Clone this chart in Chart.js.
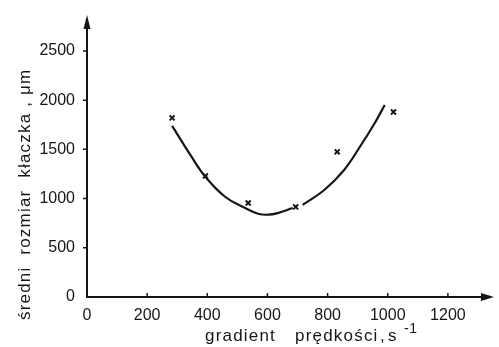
<!DOCTYPE html>
<html>
<head>
<meta charset="utf-8">
<script src="https://cdn.jsdelivr.net/npm/chart.js@4.4.0/dist/chart.umd.min.js"></script>
<style>
html, body { margin: 0; padding: 0; background: #fff; }
canvas { display: block; }
</style>
</head>
<body>
<canvas id="floc" width="499" height="347"></canvas>
<script>
// measured floc size against velocity gradient
const gradX = [283, 394, 536, 694, 832, 1019];
const flocY = [1820, 1230, 955, 915, 1475, 1880];

// fitted curve, drawn as two pieces (broken near 700)
const fitLeftX = [283, 348, 394, 460, 526, 569, 602, 634, 684];
const fitLeftY = [1738, 1423, 1220, 1016, 904, 846, 836, 852, 904];
const fitRightX = [717, 789, 855, 907, 957, 990];
const fitRightY = [935, 1087, 1291, 1524, 1768, 1951];

const xTicks = [0, 200, 400, 600, 800, 1000, 1200];
const yTicks = [0, 500, 1000, 1500, 2000, 2500];

const ink = '#161616';
const fontFamily = '"Liberation Sans", "DejaVu Sans", sans-serif';

function pairs(xs, ys) {
    return xs.map((v, i) => ({x: v, y: ys[i]}));
}

// axes with arrowheads, inner tick marks and the two axis titles
const axesArrows = {
    id: 'axesArrows',
    afterDraw(chart) {
        const {ctx, chartArea, scales} = chart;
        const x = scales.x, y = scales.y;
        const x0 = x.getPixelForValue(0);
        const y0 = y.getPixelForValue(0);
        ctx.save();
        ctx.strokeStyle = ink;
        ctx.fillStyle = ink;
        ctx.lineWidth = 2;
        ctx.beginPath();
        ctx.moveTo(x0, y0);
        ctx.lineTo(chartArea.right - 6, y0);
        ctx.moveTo(x0, y0 + 1);
        ctx.lineTo(x0, chartArea.top + 6);
        ctx.stroke();

        // arrow heads
        ctx.beginPath();
        ctx.moveTo(chartArea.right + 1, y0);
        ctx.lineTo(chartArea.right - 12, y0 - 4);
        ctx.lineTo(chartArea.right - 12, y0 + 4);
        ctx.closePath();
        ctx.fill();
        ctx.beginPath();
        ctx.moveTo(x0, chartArea.top);
        ctx.lineTo(x0 - 3.5, chartArea.top + 14);
        ctx.lineTo(x0 + 3.5, chartArea.top + 14);
        ctx.closePath();
        ctx.fill();

        ctx.lineWidth = 1.5;
        ctx.beginPath();
        xTicks.slice(1).forEach(v => {
            const px = x.getPixelForValue(v);
            ctx.moveTo(px, y0);
            ctx.lineTo(px, y0 - 4);
        });
        yTicks.slice(1).forEach(v => {
            const py = y.getPixelForValue(v);
            ctx.moveTo(x0, py);
            ctx.lineTo(x0 - 4, py);
        });
        ctx.stroke();

        // x title, word by word, with superscript unit
        ctx.font = '17px ' + fontFamily;
        ctx.letterSpacing = '1.2px';
        ctx.textAlign = 'left';
        ctx.textBaseline = 'alphabetic';
        ctx.fillText('gradient', 205, 341);
        ctx.fillText('prędkości', 295, 341);
        ctx.fillText(',', 380, 341);
        ctx.fillText('s', 388, 341);
        ctx.font = '14px ' + fontFamily;
        ctx.letterSpacing = '0.5px';
        ctx.fillText('-1', 404, 333);

        // y title, rotated
        ctx.translate(30, 320);
        ctx.rotate(-Math.PI / 2);
        ctx.font = '17px ' + fontFamily;
        ctx.letterSpacing = '1.2px';
        ctx.fillText('średni  rozmiar  kłaczka , μm', 0, 0);
        ctx.restore();
    }
};

const plainNumber = v => String(v);

new Chart(document.getElementById('floc'), {
    type: 'scatter',
    data: {
        datasets: [
            {
                data: pairs(gradX, flocY),
                pointStyle: 'crossRot',
                pointRadius: 3.5,
                pointBorderWidth: 2,
                borderColor: ink,
                backgroundColor: ink
            },
            {
                data: pairs(fitLeftX, fitLeftY),
                showLine: true,
                tension: 0.4,
                pointRadius: 0,
                borderWidth: 2.2,
                borderColor: ink
            },
            {
                data: pairs(fitRightX, fitRightY),
                showLine: true,
                tension: 0.4,
                pointRadius: 0,
                borderWidth: 2.2,
                borderColor: ink
            }
        ]
    },
    options: {
        responsive: false,
        animation: false,
        devicePixelRatio: 1,
        layout: {padding: {top: 15, right: 2, left: 0, bottom: 0}},
        plugins: {
            legend: {display: false},
            tooltip: {enabled: false}
        },
        scales: {
            x: {
                type: 'linear',
                min: 0,
                max: 1350,
                grid: {display: false, drawTicks: false},
                border: {display: false},
                ticks: {stepSize: 200, padding: 9, color: ink, maxRotation: 0,
                        callback: plainNumber,
                        font: {family: fontFamily, size: 16}},
                afterBuildTicks(scale) {
                    scale.ticks = xTicks.map(v => ({value: v}));
                },
                afterFit(scale) {
                    scale.height = 50;
                    scale.paddingLeft = 0;
                    scale.paddingRight = 0;
                }
            },
            y: {
                type: 'linear',
                min: 0,
                max: 2865,
                grid: {display: false, drawTicks: false},
                border: {display: false},
                ticks: {stepSize: 500, padding: 12, color: ink,
                        callback: plainNumber,
                        font: {family: fontFamily, size: 16}},
                afterBuildTicks(scale) {
                    scale.ticks = yTicks.map(v => ({value: v}));
                },
                afterFit(scale) {
                    scale.width = 87;
                    scale.paddingTop = 0;
                    scale.paddingBottom = 0;
                }
            }
        }
    },
    plugins: [axesArrows]
});
</script>
</body>
</html>
